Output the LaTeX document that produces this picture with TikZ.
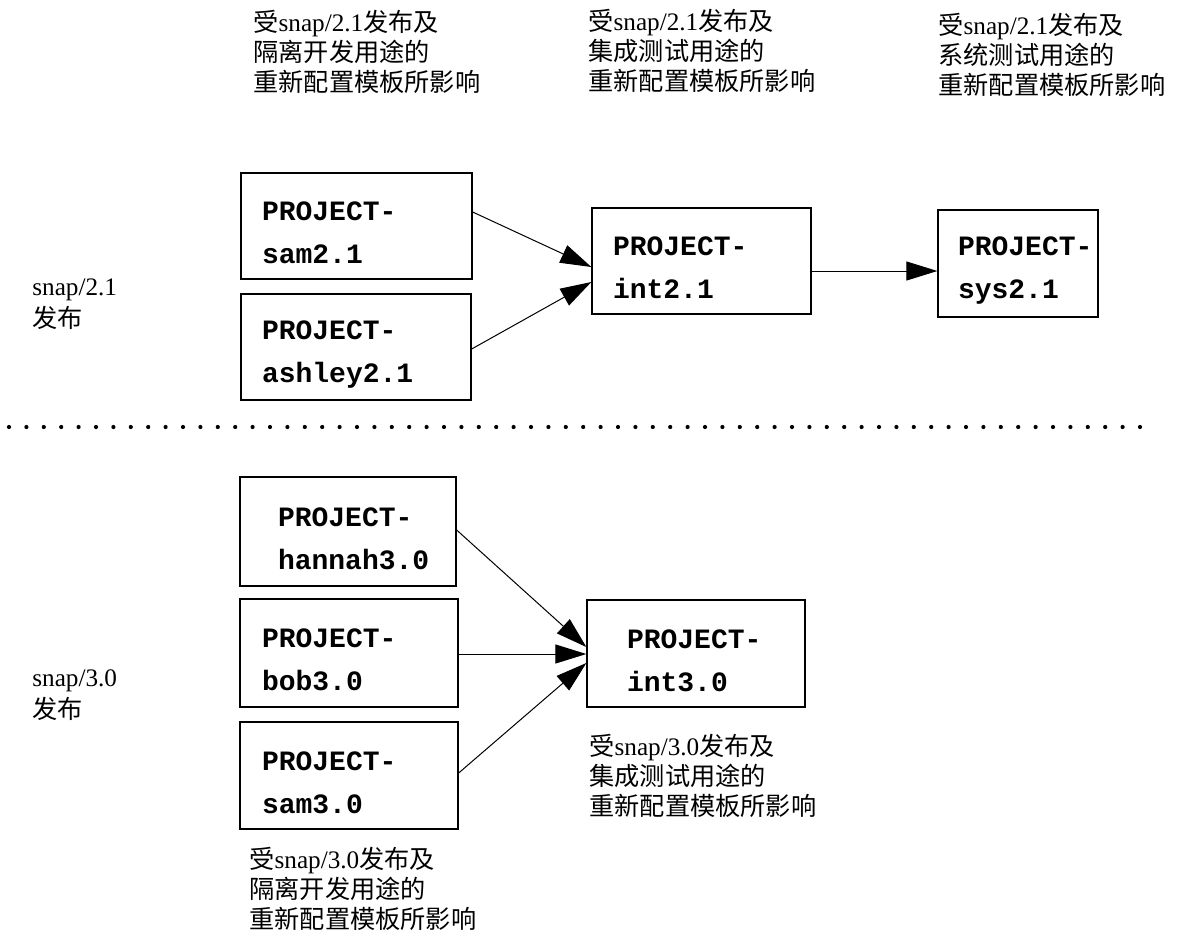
\documentclass[tikz,border=0pt]{standalone}
\usepackage{fontspec}
\setmainfont{Liberation Serif}
\setmonofont{Liberation Mono}
\newfontfamily\cjk{Noto Sans CJK SC}
\usetikzlibrary{arrows.meta}
% struts that fix the height and depth of text lines
\newcommand\bxstrut{\rule[-0.5pt]{0pt}{17pt}}
\newcommand\lbstrut{\rule{0pt}{12pt}}

\begin{document}
\begin{tikzpicture}[x=0.5pt, y=-0.5pt,
  proj/.style n args={4}{draw, line width=0.65pt,
    minimum width=#1, minimum height=#2, inner xsep=#3, inner ysep=0pt,
    text width=#4, align=left,
    font=\ttfamily\bfseries\fontsize{14}{21.5}\selectfont},
  lbl/.style={anchor=north west, inner sep=0pt, align=left,
    font=\fontsize{12.6}{15}\selectfont},
  rel/.style={anchor=north west, inner sep=0pt, align=left,
    font=\fontsize{12.6}{16}\selectfont},
  flow/.style={line width=0.5pt, -{Triangle[length=15.5pt, width=9.5pt]}},
  dotline/.style={line width=2.1pt, line cap=round,
    dash pattern=on 0pt off 8.7pt}]

\useasboundingbox (0,0) rectangle (1178,938);

% release 2.1 streams
\node[proj={115.5pt}{53pt}{10.5pt}{94.5pt}] (sam21) at (356.5,226)
  {\bxstrut PROJECT-\\\bxstrut sam2.1};
\node[proj={115pt}{53pt}{10.5pt}{94pt}] (ash21) at (356,347)
  {\bxstrut PROJECT-\\\bxstrut ashley2.1};
\node[proj={109.5pt}{53pt}{10.5pt}{88.5pt}] (int21) at (701.5,261)
  {\bxstrut PROJECT-\\\bxstrut int2.1};
\node[proj={80pt}{53.5pt}{10pt}{60pt}] (sys21) at (1018,263.5)
  {\bxstrut PROJECT-\\\bxstrut sys2.1};

\draw[flow] ([yshift=7pt]sam21.east) -- ([yshift=-3pt]int21.west);
\draw[flow] ([yshift=-1pt]ash21.east) -- ([yshift=-10.5pt]int21.west);
\coordinate (i21) at ([yshift=-5pt]int21.east);
\draw[flow] (i21) -- (i21 -| sys21.west);

% release 3.0 streams
\node[proj={108pt}{54.5pt}{19pt}{70pt}] (han30) at (348,531.5)
  {\bxstrut PROJECT-\\\bxstrut hannah3.0};
\node[proj={109pt}{54pt}{11pt}{87pt}] (bob30) at (349,653)
  {\bxstrut PROJECT-\\\bxstrut bob3.0};
\node[proj={109pt}{53.5pt}{11pt}{87pt}] (sam30) at (349,775.5)
  {\bxstrut PROJECT-\\\bxstrut sam3.0};
\node[proj={109pt}{53.5pt}{20pt}{69pt}] (int30) at (696,653.5)
  {\bxstrut PROJECT-\\\bxstrut int3.0};

\draw[flow] ([yshift=0.75pt]han30.east) -- ([yshift=3.25pt]int30.west);
\coordinate (b30) at ([yshift=-0.5pt]bob30.east);
\draw[flow] (b30) -- (b30 -| int30.west);
\draw[flow] ([yshift=1.25pt]sam30.east) -- ([yshift=-4.75pt]int30.west);

% separator between the two releases
\coordinate (sepL) at (9,427);
\coordinate (sepR) at (1140,427);
\draw[dotline] (sepL) -- (sepR);

% template notes
\node[lbl] (t1) at (253,7)
  {\lbstrut{\cjk 受}snap/2.1{\cjk 发布及}\\{\cjk 隔离开发用途的}\\{\cjk 重新配置模板所影响}};
\node[lbl] (t2) at (588,6)
  {\lbstrut{\cjk 受}snap/2.1{\cjk 发布及}\\{\cjk 集成测试用途的}\\{\cjk 重新配置模板所影响}};
\node[lbl] (t3) at (938,10)
  {\lbstrut{\cjk 受}snap/2.1{\cjk 发布及}\\{\cjk 系统测试用途的}\\{\cjk 重新配置模板所影响}};
\node[lbl] (t4) at (249,844)
  {\lbstrut{\cjk 受}snap/3.0{\cjk 发布及}\\{\cjk 隔离开发用途的}\\{\cjk 重新配置模板所影响}};
\node[lbl] (t5) at (589,731)
  {\lbstrut{\cjk 受}snap/3.0{\cjk 发布及}\\{\cjk 集成测试用途的}\\{\cjk 重新配置模板所影响}};

% release names
\node[rel] (r21) at (32,271) {\lbstrut snap/2.1\\{\cjk 发布}};
\node[rel] (r30) at (32,662) {\lbstrut snap/3.0\\{\cjk 发布}};

\end{tikzpicture}
\end{document}
